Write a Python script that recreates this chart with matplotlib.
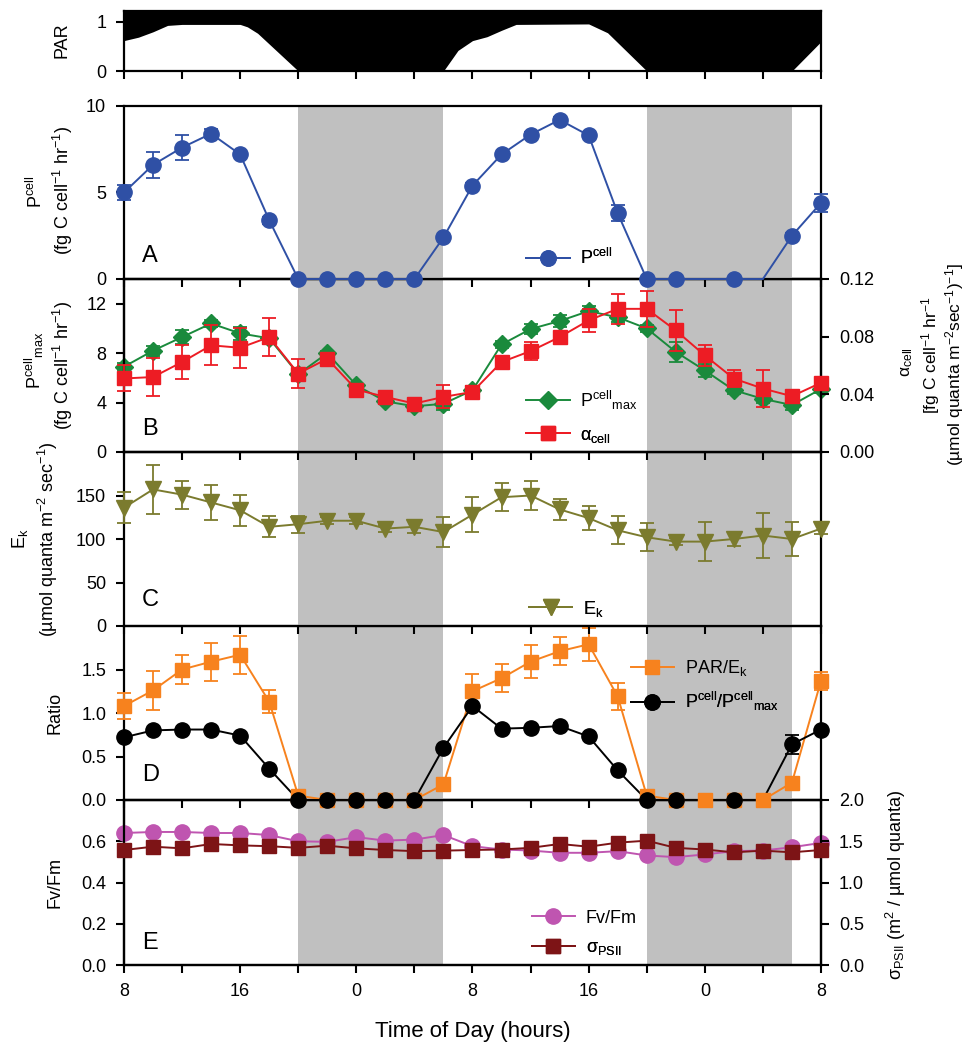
import numpy as np
import matplotlib
matplotlib.use("Agg")
import matplotlib.pyplot as plt
from matplotlib.lines import Line2D
from matplotlib.ticker import FormatStrFormatter

plt.rcParams.update({
    "font.family": ["Liberation Sans", "DejaVu Sans"],
    "mathtext.fontset": "custom",
    "mathtext.rm": "Liberation Sans",
    "mathtext.it": "Liberation Sans:italic",
    "mathtext.bf": "Liberation Sans:bold",
    "mathtext.default": "regular",
    "font.size": 13,
    "axes.linewidth": 1.6,
    "xtick.direction": "out",
    "ytick.direction": "out",
    "xtick.major.size": 5.8,
    "ytick.major.size": 5.8,
    "xtick.major.width": 1.5,
    "ytick.major.width": 1.5,
    "xtick.major.pad": 7.5,
    "ytick.major.pad": 7,
    "xtick.labelsize": 13,
    "ytick.labelsize": 13,
})

# ---- data (hours since midnight of day 1; 32 = 08:00 of day 2) ----
hours = [8, 10, 12, 14, 16, 18, 20, 22, 24, 26, 28, 30, 32,
         34, 36, 38, 40, 42, 44, 46, 48, 50, 52, 54, 56]
dark_periods = [(20, 30), (44, 54)]

x_ticks = [8, 12, 16, 20, 24, 28, 32, 36, 40, 44, 48, 52, 56]
x_tick_labels = ["8", "", "16", "", "0", "", "8", "", "16", "", "0", "", "8"]

# normalised PAR (white area under curve)
par_hours = [8, 9, 10, 11, 12, 14, 16, 16.5, 17.2, 20, 30, 31, 32, 33, 34, 35, 40, 41.3, 44, 54, 56]
par_level = [0.62, 0.69, 0.80, 0.93, 0.95, 0.95, 0.95, 0.90, 0.77, 0.0, 0.0, 0.42, 0.62,
             0.70, 0.83, 0.95, 0.96, 0.78, 0.0, 0.0, 0.60]

# A: P cell (nan = no sample)
p_cell = [5.0, 6.6, 7.6, 8.4, 7.2, 3.4, 0, 0, 0, 0, 0, 2.4, 5.4,
          7.2, 8.35, 9.2, 8.3, 3.8, 0, 0, np.nan, 0, 0, 2.5, 4.4]
p_cell_err = [0.45, 0.75, 0.75, 0.25, 0.15, 0.2, 0, 0, 0, 0, 0, 0.15, 0.15,
              0.15, 0.15, 0.15, 0.15, 0.45, 0, 0, np.nan, 0, 0, 0.15, 0.5]

# B: P cell max (left) and alpha cell (right)
p_max = [6.9, 8.2, 9.3, 10.4, 9.6, 9.2, 6.3, 8.0, 5.4, 4.1, 3.7, 3.9, 5.0,
         8.7, 9.95, 10.6, 11.4, 10.9, 10.0, 8.1, 6.6, 5.0, 4.3, 3.8, 5.1]
p_max_err = [0.3, 0.4, 0.6, 0.3, 0.5, 0.5, 0.4, 0.2, 0.2, 0.2, 0.2, 0.5, 0.3,
             0.3, 0.4, 0.5, 0.4, 0.4, 0.3, 0.8, 0.5, 0.3, 0.3, 0.4, 0.3]
alpha = [0.051, 0.052, 0.0624, 0.074, 0.0723, 0.0797, 0.0544, 0.0647, 0.0433, 0.0382, 0.0336, 0.0382, 0.0417,
         0.0624, 0.070, 0.0797, 0.0913, 0.0993, 0.0993, 0.0843, 0.067, 0.0509, 0.044, 0.0387, 0.048]
alpha_err = [0.009, 0.013, 0.012, 0.014, 0.014, 0.013, 0.0099, 0.002, 0.002, 0.002, 0.002, 0.008, 0.0043,
             0.003, 0.0063, 0.003, 0.008, 0.0104, 0.0127, 0.0144, 0.0075, 0.0058, 0.0127, 0.002, 0.002]

# C: Ek
ek = [136, 157, 151, 142, 133, 114, 117, 121, 121, 112, 114, 108, 128,
      148, 150, 134, 124, 110, 102, 97, 97, 100, 104, 100, 112]
ek_err = [18, 28, 16, 20, 18, 12, 10, 4, 4, 4, 7, 17, 20,
          16, 17, 12, 14, 16, 16, 4, 22, 8, 26, 20, 6]

# D: ratios
par_ek = [1.08, 1.26, 1.50, 1.59, 1.67, 1.13, 0.05, 0, 0, 0, 0, 0.18, 1.25,
          1.40, 1.59, 1.71, 1.79, 1.19, 0.05, 0, 0, 0, 0, 0.20, 1.37]
par_ek_err = [0.15, 0.22, 0.17, 0.22, 0.22, 0.13, 0.03, 0, 0, 0, 0, 0.03, 0.2,
              0.16, 0.19, 0.16, 0.19, 0.15, 0.03, 0, 0, 0, 0, 0.03, 0.1]
p_ratio = [0.72, 0.80, 0.81, 0.81, 0.74, 0.36, 0, 0, 0, 0, 0, 0.60, 1.08,
           0.82, 0.83, 0.85, 0.73, 0.34, 0, 0, np.nan, 0, 0, 0.64, 0.81]
p_ratio_err = [0.02, 0.02, 0.02, 0.02, 0.02, 0.02, 0, 0, 0, 0, 0, 0.02, 0.02,
               0.02, 0.02, 0.04, 0.02, 0.03, 0, 0, np.nan, 0, 0, 0.11, 0.02]
no_marker_hours = [52]  # line passes through, marker not drawn

# E: Fv/Fm (left) and sigma PSII (right)
fvfm = [0.64, 0.645, 0.645, 0.64, 0.64, 0.63, 0.60, 0.597, 0.62, 0.603, 0.608, 0.63, 0.576,
        0.56, 0.555, 0.544, 0.544, 0.552, 0.531, 0.523, 0.536, 0.552, 0.555, 0.571, 0.592]
sigma = [1.394, 1.434, 1.414, 1.467, 1.45, 1.44, 1.42, 1.446, 1.414, 1.394, 1.38, 1.386, 1.394,
         1.40, 1.42, 1.467, 1.434, 1.483, 1.507, 1.42, 1.40, 1.366, 1.386, 1.366, 1.394]

colours = {
    "pcell": "#2f50a5",
    "pmax": "#1a8a3c",
    "alpha": "#ed1c24",
    "ek": "#7b7b2e",
    "parek": "#f7821e",
    "ratio": "#000000",
    "fvfm": "#bf55b0",
    "sigma": "#7d1416",
}
shade = "#c0c0c0"

fig = plt.figure(figsize=(9.68, 10.44), dpi=100)
W, H = 968.0, 1044.0


def panel(top, bottom, z):
    ax = fig.add_axes([124 / W, 1 - bottom / H, 697 / W, (bottom - top) / H])
    ax.set_facecolor("none")
    ax.set_zorder(z)
    return ax


def series(ax, y, err, colour, marker, ms, skip=()):
    x = np.array(hours, float)
    y = np.array(y, float)
    err = np.array(err, float)
    ok = ~np.isnan(y)
    ax.plot(x[ok], y[ok], color=colour, lw=1.4, zorder=3, clip_on=False)
    m = ok & ~np.isin(x, skip)
    ax.errorbar(x[m], y[m], yerr=err[m], fmt=marker, color=colour, ms=ms,
                mec=colour, elinewidth=1.3, capsize=5, capthick=1.3,
                zorder=4, clip_on=False)


def key(ax, colour, marker, ms, label, x, y):
    h = Line2D([], [], color=colour, marker=marker, ms=ms, lw=1.4)
    leg = ax.legend([h], [label], loc="center left", bbox_to_anchor=(x, y),
                    frameon=False, handlelength=2.4, handletextpad=0.6,
                    borderpad=0, borderaxespad=0, fontsize=13, numpoints=1)
    ax.add_artist(leg)


def style_x(ax, labels=False):
    ax.set_xlim(8, 56)
    ax.set_xticks(x_ticks)
    ax.set_xticklabels(x_tick_labels if labels else [])


def shade_dark(ax):
    for a, b in dark_periods:
        ax.axvspan(a, b, color=shade, lw=0, zorder=0)


# PAR strip
ax_par = panel(10.7, 71, 10)
ax_par.set_ylim(0, 1.23)
ax_par.fill_between(par_hours, par_level, 1.23, color="black", lw=0)
ax_par.set_yticks([0, 1])
style_x(ax_par)

# A
ax_a = panel(106, 279, 9)
shade_dark(ax_a)
series(ax_a, p_cell, p_cell_err, colours["pcell"], "o", 11, no_marker_hours)
ax_a.set_ylim(0, 10)
ax_a.set_yticks([0, 5, 10])
style_x(ax_a)

# B
ax_b = panel(279, 452, 8)
shade_dark(ax_b)
series(ax_b, p_max, p_max_err, colours["pmax"], "D", 8.8)
ax_b.set_ylim(0, 14)
ax_b.set_yticks([0, 4, 8, 12])
style_x(ax_b)
ax_b2 = ax_b.twinx()
ax_b2.set_zorder(8.5)
series(ax_b2, alpha, alpha_err, colours["alpha"], "s", 9.5)
ax_b2.set_ylim(0, 0.12)
ax_b2.set_yticks([0, 0.04, 0.08, 0.12])
ax_b2.yaxis.set_major_formatter(FormatStrFormatter("%.2f"))

# C
ax_c = panel(452, 626, 7)
shade_dark(ax_c)
series(ax_c, ek, ek_err, colours["ek"], "v", 11)
ax_c.set_ylim(0, 200)
ax_c.set_yticks([0, 50, 100, 150])
style_x(ax_c)

# D
ax_d = panel(626, 800, 6)
shade_dark(ax_d)
series(ax_d, par_ek, par_ek_err, colours["parek"], "s", 9.5)
series(ax_d, p_ratio, p_ratio_err, colours["ratio"], "o", 11, no_marker_hours)
ax_d.set_ylim(0, 2)
ax_d.set_yticks([0, 0.5, 1.0, 1.5])
ax_d.yaxis.set_major_formatter(FormatStrFormatter("%.1f"))
style_x(ax_d)

# E
ax_e = panel(800, 965, 5)
shade_dark(ax_e)
series(ax_e, fvfm, [0] * len(fvfm), colours["fvfm"], "o", 11)
ax_e.set_ylim(0, 0.8)
ax_e.set_yticks([0, 0.2, 0.4, 0.6])
ax_e.yaxis.set_major_formatter(FormatStrFormatter("%.1f"))
style_x(ax_e, labels=True)
ax_e2 = ax_e.twinx()
ax_e2.set_zorder(5.5)
series(ax_e2, sigma, [0] * len(sigma), colours["sigma"], "s", 9.5)
ax_e2.set_ylim(0, 2.0)
ax_e2.set_yticks([0, 0.5, 1.0, 1.5, 2.0])
ax_e2.yaxis.set_major_formatter(FormatStrFormatter("%.1f"))

for ax in [ax_par, ax_a, ax_b, ax_b2, ax_c, ax_d, ax_e, ax_e2]:
    for sp in ax.spines.values():
        sp.set_linewidth(1.6)

# panel letters
for ax, letter, yy in [(ax_a, "A", 0.133), (ax_b, "B", 0.133), (ax_c, "C", 0.15),
                       (ax_d, "D", 0.144), (ax_e, "E", 0.133)]:
    ax.text(0.026, yy, letter, transform=ax.transAxes, fontsize=17,
            ha="left", va="center", zorder=6)

# legends
key(ax_a, colours["pcell"], "o", 11, "P$^{cell}$", 0.577, 0.12)
key(ax_b2, colours["pmax"], "D", 8.8, "P$^{cell}{}_{max}$", 0.577, 0.30)
key(ax_b2, colours["alpha"], "s", 9.5, "α$_{cell}$", 0.577, 0.094)
key(ax_c, colours["ek"], "v", 11, "E$_k$", 0.581, 0.10)
key(ax_d, colours["parek"], "s", 9.5, "PAR/E$_k$", 0.727, 0.757)
key(ax_d, colours["ratio"], "o", 11, "P$^{cell}$/P$^{cell}{}_{max}$", 0.727, 0.565)
key(ax_e2, colours["fvfm"], "o", 11, "Fv/Fm", 0.585, 0.283)
key(ax_e2, colours["sigma"], "s", 9.5, "σ$_{PSII}$", 0.585, 0.101)


def label(x, y, s, size=13, rot=90):
    fig.text(x / W, 1 - y / H, s, rotation=rot, ha="center", va="center", fontsize=size)


label(62, 40, "PAR")
label(36, 192, "P$^{cell}$")
label(63, 190, "(fg C cell$^{-1}$ hr$^{-1}$)")
label(34, 360, "P$^{cell}{}_{max}$")
label(63, 365, "(fg C cell$^{-1}$ hr$^{-1}$)")
label(20, 539, "E$_k$")
label(48, 539, "(µmol quanta m$^{-2}$ sec$^{-1}$)")
label(55, 713, "Ratio")
label(55, 883, "Fv/Fm")
label(907, 362, "α$_{cell}$", size=12.5)
label(931, 355, "[fg C cell$^{-1}$ hr$^{-1}$", size=12.5)
label(955, 365, "(µmol quanta m$^{-2}$sec$^{-1}$)$^{-1}$]", size=12.5)
label(896, 885, "σ$_{PSII}$ (m$^2$ / µmol quanta)")
label(473, 1031, "Time of Day (hours)", size=16, rot=0)

fig.savefig("out.png", dpi=100, facecolor="white")
